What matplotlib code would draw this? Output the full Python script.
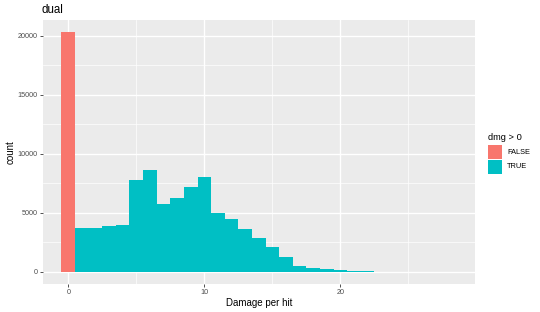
import matplotlib
matplotlib.use('Agg')
import matplotlib.pyplot as plt
from matplotlib.patches import Rectangle
from matplotlib.ticker import MultipleLocator

plt.rcParams['font.family'] = ['Liberation Sans', 'DejaVu Sans']

# damage values (bin centres, width 1)
dmg_false = [0]
count_false = [20300]
dmg_true = list(range(1, 28))
count_true = [3750, 3700, 3850, 3950, 7820, 8640, 5730, 6240, 7200, 8050,
              5000, 4490, 3640, 2850, 2100, 1300, 530, 370, 230, 170,
              100, 60, 25, 12, 6, 3, 2]
legend_labels = ['FALSE', 'TRUE']
col_false = '#F8766D'
col_true = '#00BFC4'

W, H = 540, 312
fig = plt.figure(figsize=(W / 100, H / 100), dpi=100)
ax = fig.add_axes([42.7 / W, 1 - 284 / H, (475 - 42.7) / W, (284 - 20) / H])
ax.set_facecolor('#EBEBEB')
for s in ax.spines.values():
    s.set_visible(False)

ax.bar(dmg_false, count_false, width=1.0, color=col_false, linewidth=0, zorder=3)
ax.bar(dmg_true, count_true, width=1.0, color=col_true, linewidth=0, zorder=3)

ax.set_xlim(-1.88, 29.9)
ax.set_ylim(-1015, 21315)
ax.xaxis.set_major_locator(MultipleLocator(10))
ax.xaxis.set_minor_locator(MultipleLocator(5))
ax.yaxis.set_major_locator(MultipleLocator(5000))
ax.yaxis.set_minor_locator(MultipleLocator(2500))
ax.grid(which='major', color='white', linewidth=1.0, zorder=0)
ax.grid(which='minor', color='white', linewidth=0.5, zorder=0)
ax.set_axisbelow(True)
ax.tick_params(which='major', length=2.2, width=0.6, color='#333333',
               labelsize=5.2, labelcolor='#4D4D4D', pad=1.5)
ax.tick_params(which='minor', length=0)

fig.text(259 / W, 1 - 303 / H, 'Damage per hit', fontsize=7, va='center', ha='center')
fig.text(11 / W, 1 - 152 / H, 'count', fontsize=7, va='center', ha='center',
         rotation=90)
fig.text(42 / W, 1 - 10 / H, 'dual', fontsize=8.3, va='center', ha='left')

# legend
fig.text(488 / W, 1 - 137 / H, 'dmg > 0', fontsize=6.7, va='center', ha='left')
for i, (lab, c) in enumerate(zip(legend_labels, [col_false, col_true])):
    y0 = 145 + i * 15
    fig.add_artist(Rectangle((488 / W, 1 - (y0 + 13.5) / H), 14 / W, 13.5 / H,
                             transform=fig.transFigure, color=c, linewidth=0))
    fig.text(507 / W, 1 - (y0 + 7) / H, lab, fontsize=5.3, va='center', ha='left')

plt.savefig('out.png', dpi=100)
